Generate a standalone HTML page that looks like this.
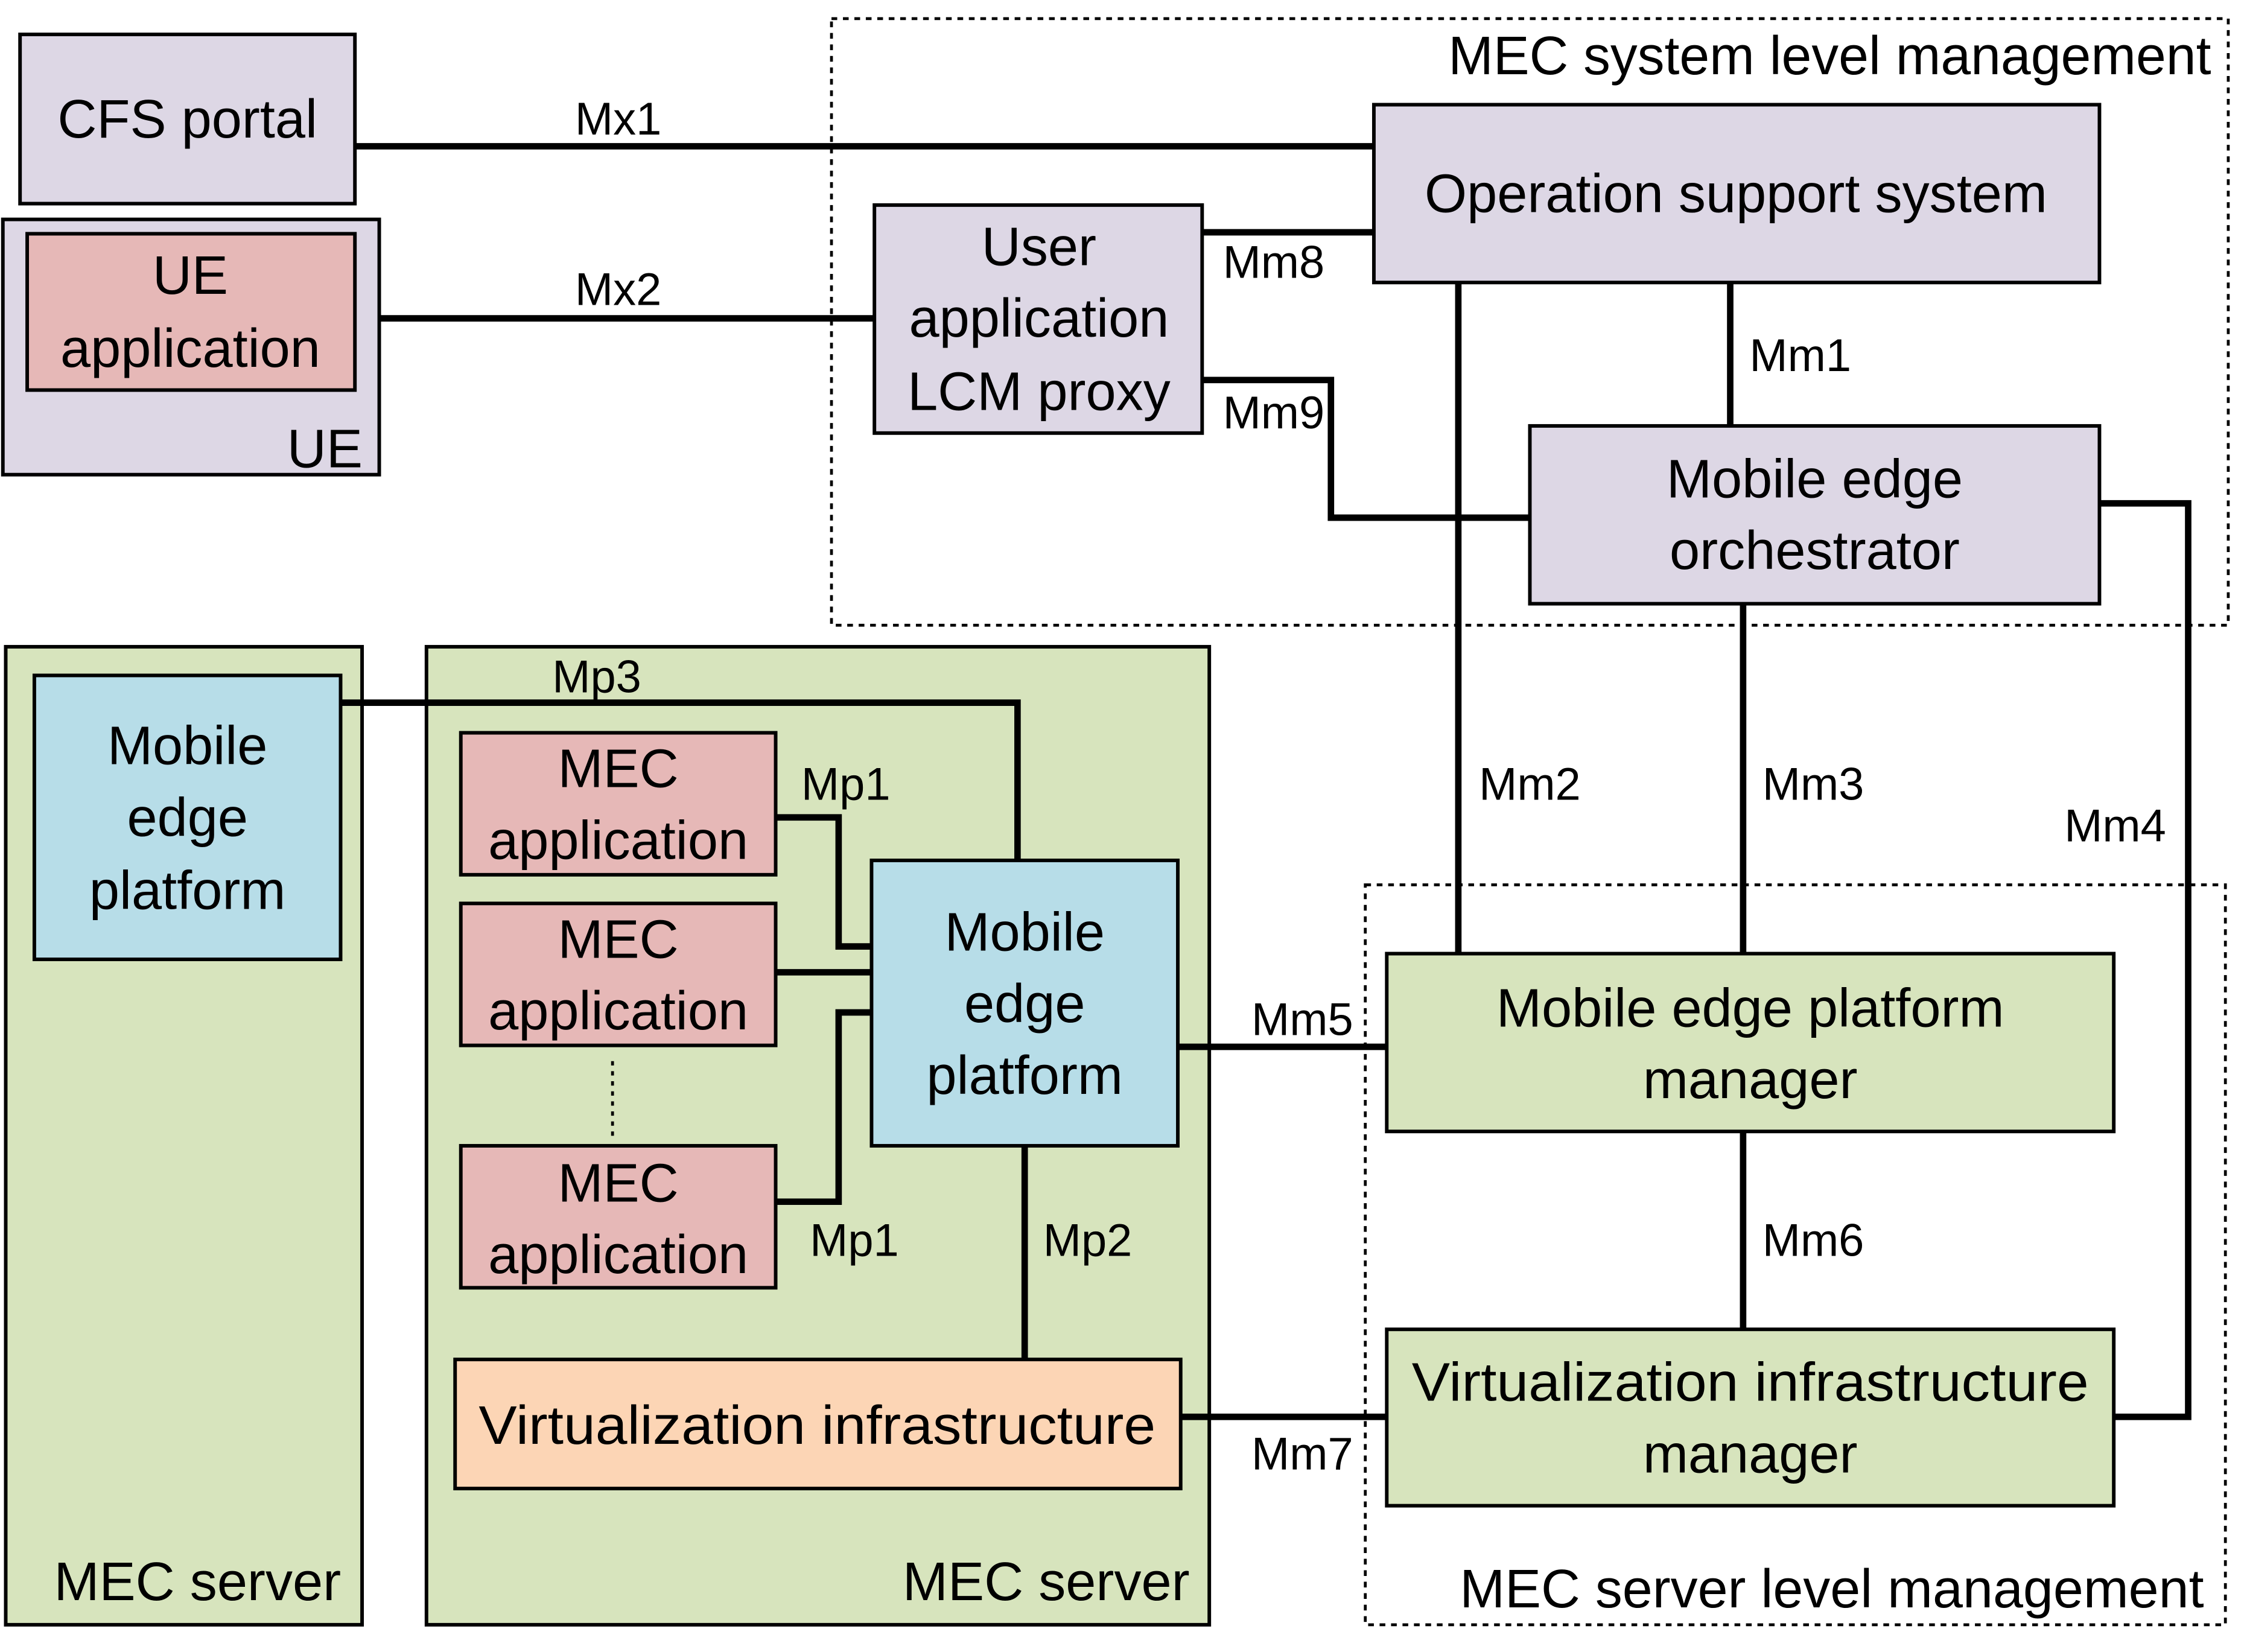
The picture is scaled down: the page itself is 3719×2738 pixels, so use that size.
<!DOCTYPE html>
<html><head><meta charset="utf-8"><style>
html,body{margin:0;padding:0;background:#fff;}
svg{display:block;}
text{font-family:"Liberation Sans",sans-serif;fill:#000;}
.b{font-size:38px;text-anchor:middle;dominant-baseline:central;}
.s{font-size:32px;text-anchor:middle;dominant-baseline:central;}
.box{stroke:#000;stroke-width:2.5;}
.ln{stroke:#000;stroke-width:4.5;fill:none;}
.dash{stroke:#000;stroke-width:2;stroke-dasharray:4 4;fill:none;}
</style></head><body>
<svg width="3719" height="2738" viewBox="0 0 1568 1152" preserveAspectRatio="none" xmlns="http://www.w3.org/2000/svg">
<rect width="1568" height="1152" fill="#fff"/>
<rect class="dash" x="581" y="13" width="976" height="423"/>
<text class="b" x="1012" y="39" style="text-anchor:start" textLength="533" lengthAdjust="spacingAndGlyphs">MEC system level management</text>
<rect class="dash" x="954" y="617" width="601" height="516"/>
<text class="b" x="1020" y="1108" style="text-anchor:start" textLength="520" lengthAdjust="spacingAndGlyphs">MEC server level management</text>

<rect class="box" x="4" y="451" width="249" height="682" fill="#d7e4bd"/>
<text class="b" x="138" y="1103">MEC server</text>
<rect class="box" x="298" y="451" width="547" height="682" fill="#d7e4bd"/>
<text class="b" x="731" y="1103">MEC server</text>

<polyline class="ln" points="248,102 960,102"/>
<text class="s" x="432" y="83">Mx1</text>
<polyline class="ln" points="248,222 611,222"/>
<text class="s" x="432" y="202">Mx2</text>
<polyline class="ln" points="840,162 960,162"/>
<text class="s" x="890" y="183">Mm8</text>
<polyline class="ln" points="840,265 930,265 930,361 1069,361"/>
<text class="s" x="890" y="288">Mm9</text>
<polyline class="ln" points="1209,197 1209,297"/>
<text class="s" x="1258" y="248">Mm1</text>
<polyline class="ln" points="1019,197 1019,665"/>
<text class="s" x="1069" y="547">Mm2</text>
<polyline class="ln" points="1218,421 1218,665"/>
<text class="s" x="1267" y="547">Mm3</text>
<polyline class="ln" points="1467,351 1529,351 1529,988 1477,988"/>
<text class="s" x="1478" y="576">Mm4</text>
<polyline class="ln" points="238,490 711,490 711,600"/>
<text class="s" x="417" y="472">Mp3</text>
<polyline class="ln" points="542,570 586,570 586,660 609,660"/>
<polyline class="ln" points="542,678 609,678"/>
<polyline class="ln" points="542,838 586,838 586,706 609,706"/>
<text class="s" x="591" y="547">Mp1</text>
<text class="s" x="597" y="865">Mp1</text>
<line x1="428" y1="740" x2="428" y2="792" stroke="#000" stroke-width="2" stroke-dasharray="3 4"/>
<polyline class="ln" points="716,799 716,948"/>
<text class="s" x="760" y="865">Mp2</text>
<polyline class="ln" points="823,730 969,730"/>
<text class="s" x="910" y="711">Mm5</text>
<polyline class="ln" points="1218,789 1218,927"/>
<text class="s" x="1267" y="865">Mm6</text>
<polyline class="ln" points="825,988 969,988"/>
<text class="s" x="910" y="1014">Mm7</text>

<rect class="box" x="14" y="24" width="234" height="118" fill="#ddd7e5"/>
<text class="b" x="131" y="83">CFS portal</text>
<rect class="box" x="2" y="153" width="263" height="178" fill="#ddd7e5"/>
<rect class="box" x="19" y="163" width="229" height="109" fill="#e6b8b7"/>
<text class="b" x="133" y="192">UE</text>
<text class="b" x="133" y="243">application</text>
<text class="b" x="227" y="313">UE</text>

<rect class="box" x="960" y="73" width="507" height="124" fill="#ddd7e5"/>
<text class="b" x="1213" y="135">Operation support system</text>
<rect class="box" x="611" y="143" width="229" height="159" fill="#ddd7e5"/>
<text class="b" x="726" y="172">User</text>
<text class="b" x="726" y="222">application</text>
<text class="b" x="726" y="273">LCM proxy</text>
<rect class="box" x="1069" y="297" width="398" height="124" fill="#ddd7e5"/>
<text class="b" x="1268" y="334">Mobile edge</text>
<text class="b" x="1268" y="384">orchestrator</text>

<rect class="box" x="24" y="471" width="214" height="198" fill="#b7dde8"/>
<text class="b" x="131" y="520">Mobile</text>
<text class="b" x="131" y="570">edge</text>
<text class="b" x="131" y="621">platform</text>

<rect class="box" x="322" y="511" width="220" height="99" fill="#e6b8b7"/>
<text class="b" x="432" y="536">MEC</text>
<text class="b" x="432" y="586">application</text>
<rect class="box" x="322" y="630" width="220" height="99" fill="#e6b8b7"/>
<text class="b" x="432" y="655">MEC</text>
<text class="b" x="432" y="705">application</text>
<rect class="box" x="322" y="799" width="220" height="99" fill="#e6b8b7"/>
<text class="b" x="432" y="825">MEC</text>
<text class="b" x="432" y="875">application</text>

<rect class="box" x="609" y="600" width="214" height="199" fill="#b7dde8"/>
<text class="b" x="716" y="650">Mobile</text>
<text class="b" x="716" y="700">edge</text>
<text class="b" x="716" y="750">platform</text>

<rect class="box" x="318" y="948" width="507" height="90" fill="#fcd5b5"/>
<text class="b" x="571" y="994" textLength="473" lengthAdjust="spacingAndGlyphs">Virtualization infrastructure</text>

<rect class="box" x="969" y="665" width="508" height="124" fill="#d7e4bd"/>
<text class="b" x="1223" y="703">Mobile edge platform</text>
<text class="b" x="1223" y="753">manager</text>
<rect class="box" x="969" y="927" width="508" height="123" fill="#d7e4bd"/>
<text class="b" x="1223" y="964" textLength="473" lengthAdjust="spacingAndGlyphs">Virtualization infrastructure</text>
<text class="b" x="1223" y="1014">manager</text>
</svg>
</body></html>
